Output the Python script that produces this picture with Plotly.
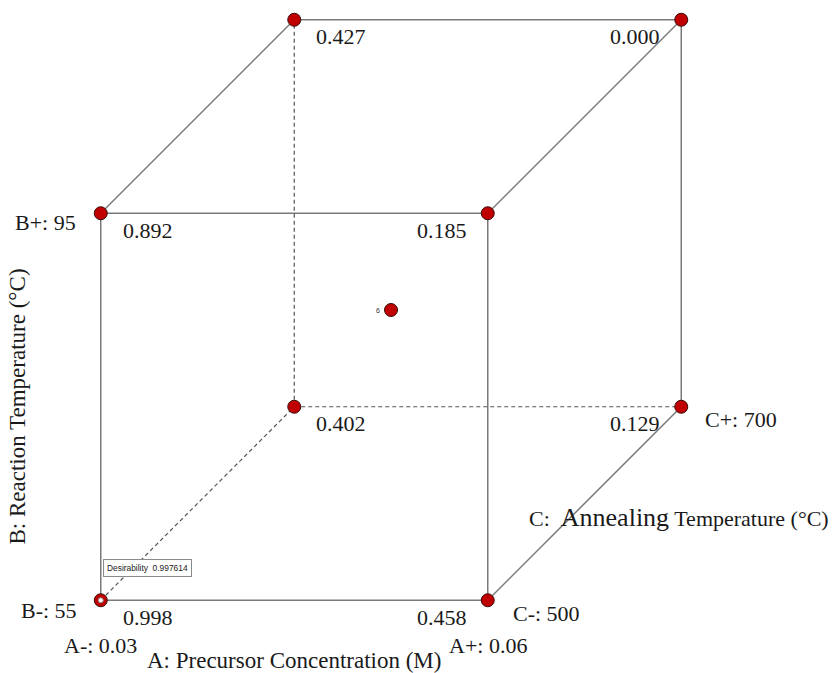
import plotly.graph_objects as go

# ---- data -------------------------------------------------------------
# coded factor levels of the 8 cube corners (A, B, C) and their desirability
corner_A = [-1, 1, -1, 1, -1, 1, -1, 1]
corner_B = [-1, -1, 1, 1, -1, -1, 1, 1]
corner_C = [-1, -1, -1, -1, 1, 1, 1, 1]
corner_val = ["0.998", "0.458", "0.892", "0.185", "0.402", "0.129", "0.427", "0.000"]

center_label = "6"
A_levels = ["A-: 0.03", "A+: 0.06"]
B_levels = ["B-: 55", "B+: 95"]
C_levels = ["C-: 500", "C+: 700"]
A_title = "A: Precursor Concentration (M)"
B_title = "B: Reaction Temperature (°C)"
C_title = "C:  <span style='font-size:26px'>Annealing</span> Temperature (°C)"
tooltip = "Desirability  0.997614"

DEPTH = 0.5


def proj(a, b, c):
    return a + DEPTH * c, b + DEPTH * c


edges_solid = [
    ((-1, -1, -1), (1, -1, -1)), ((-1, -1, -1), (-1, 1, -1)),
    ((1, -1, -1), (1, 1, -1)), ((-1, 1, -1), (1, 1, -1)),
    ((-1, 1, 1), (1, 1, 1)), ((1, -1, 1), (1, 1, 1)),
    ((1, -1, -1), (1, -1, 1)), ((-1, 1, -1), (-1, 1, 1)),
    ((1, 1, -1), (1, 1, 1)),
]
edges_dashed = [
    ((-1, -1, 1), (1, -1, 1)), ((-1, -1, 1), (-1, 1, 1)),
    ((-1, -1, -1), (-1, -1, 1)),
]

fig = go.Figure()
LINE = "#7a7a7a"
for p, q in edges_solid:
    x0, y0 = proj(*p)
    x1, y1 = proj(*q)
    fig.add_trace(go.Scatter(x=[x0, x1], y=[y0, y1], mode="lines",
                             line=dict(color=LINE, width=1.5), hoverinfo="skip"))
for p, q in edges_dashed:
    x0, y0 = proj(*p)
    x1, y1 = proj(*q)
    fig.add_trace(go.Scatter(x=[x0, x1], y=[y0, y1], mode="lines",
                             line=dict(color="#555555", width=1.2, dash="4px,3px"),
                             hoverinfo="skip"))

px_ = [proj(a, b, c)[0] for a, b, c in zip(corner_A, corner_B, corner_C)]
py_ = [proj(a, b, c)[1] for a, b, c in zip(corner_A, corner_B, corner_C)]
fig.add_trace(go.Scatter(x=px_ + [0], y=py_ + [0], mode="markers",
                         marker=dict(size=13, color="#c00000",
                                     line=dict(color="#3a0a0a", width=1))))
# selected corner highlight
sx, sy = proj(-1, -1, -1)
fig.add_trace(go.Scatter(x=[sx], y=[sy], mode="markers",
                         marker=dict(size=5, color="white",
                                     line=dict(color="#888888", width=1))))

FONT = dict(family="Liberation Serif", size=22, color="#1a1a1a")
TFONT = dict(family="Liberation Serif", size=23, color="#1a1a1a")
ann = []
for a, b, c, v, x, y in zip(corner_A, corner_B, corner_C, corner_val, px_, py_):
    if a < 0:
        ann.append(dict(x=x, y=y, text=v, xanchor="left", yanchor="middle",
                        xshift=20, yshift=-17, font=FONT))
    else:
        ann.append(dict(x=x, y=y, text=v, xanchor="right", yanchor="middle",
                        xshift=-19, yshift=-17, font=FONT))

x, y = proj(-1, -1, -1)
ann.append(dict(x=x, y=y, text=A_levels[0], xanchor="center", yanchor="middle",
                yshift=-45, font=FONT))
ann.append(dict(x=x, y=y, text=B_levels[0], xanchor="right", yanchor="middle",
                xshift=-22, yshift=-10, font=FONT))
x, y = proj(1, -1, -1)
ann.append(dict(x=x, y=y, text=A_levels[1], xanchor="center", yanchor="middle",
                yshift=-45, font=FONT))
ann.append(dict(x=x, y=y, text=C_levels[0], xanchor="left", yanchor="middle",
                xshift=23, yshift=-13, font=FONT))
x, y = proj(-1, 1, -1)
ann.append(dict(x=x, y=y, text=B_levels[1], xanchor="right", yanchor="middle",
                xshift=-23, yshift=-9, font=FONT))
x, y = proj(1, -1, 1)
ann.append(dict(x=x, y=y, text=C_levels[1], xanchor="left", yanchor="middle",
                xshift=22, yshift=-13, font=FONT))

x, y = proj(0, -1, -1)
ann.append(dict(x=x, y=y, text=A_title, xanchor="center", yanchor="middle",
                yshift=-60, borderpad=0, font=TFONT))
x, y = proj(-1, 0, -1)
ann.append(dict(x=x, y=y, text=B_title, xanchor="center", yanchor="middle",
                xshift=-83, textangle=-90, font=TFONT))
x, y = proj(1, -1, 0)
ann.append(dict(x=x, y=y, text=C_title, xanchor="left", yanchor="middle",
                xshift=-58, yshift=-14, font=FONT))

ann.append(dict(x=0, y=0, text=center_label, xanchor="right", yanchor="middle",
                xshift=-9, font=dict(family="Arial", size=7, color="#333333")))
x, y = proj(-1, -1, -1)
ann.append(dict(x=x, y=y, text=tooltip, xanchor="left", yanchor="middle",
                xshift=2, yshift=32, font=dict(family="Liberation Sans", size=8.4, color="#222222"),
                bordercolor="#8a8a8a", borderwidth=1, borderpad=3, bgcolor="white"))

for a_ in ann:
    a_.setdefault("showarrow", False)

S = 193.5
fig.update_layout(
    width=834, height=673, margin=dict(l=0, r=0, t=0, b=0),
    paper_bgcolor="white", plot_bgcolor="white", showlegend=False,
    xaxis=dict(visible=False, range=[-391 / S, (834 - 391) / S]),
    yaxis=dict(visible=False, range=[-(673 - 310) / S, 310 / S]),
    annotations=ann,
)
fig.write_html("out.html")
